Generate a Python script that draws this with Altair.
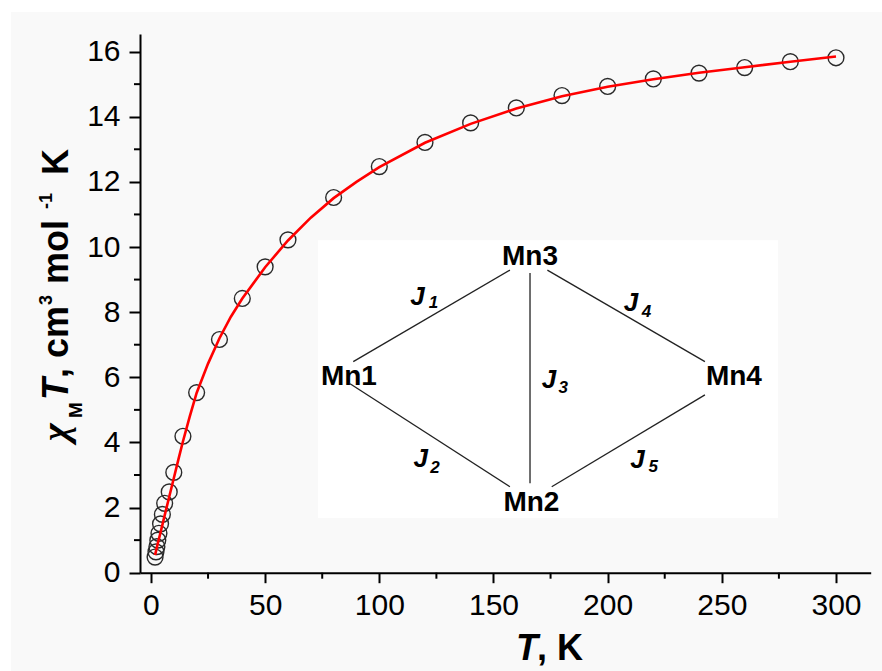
import altair as alt
import pandas as pd

T_exp = [1.8, 2.2, 2.6, 3.0, 3.5, 4.2, 5.0, 6.0, 8.0, 10, 14, 20, 30, 40, 50, 60, 80,
         100, 120, 140, 160, 180, 200, 220, 240, 260, 280, 300]
chiT_exp = [0.48, 0.64, 0.80, 1.00, 1.21, 1.50, 1.79, 2.13, 2.48, 3.08, 4.19, 5.53, 7.16, 8.42,
            9.39, 10.22, 11.52, 12.47, 13.21, 13.81, 14.27, 14.65, 14.93, 15.16, 15.34,
            15.51, 15.69, 15.81]

# ---- fit curve ----
T_fit = [1.8, 3, 4, 5, 6, 8, 10, 12, 14, 17, 20, 25, 30, 35, 40, 50, 60, 70, 80, 90,
         100, 120, 140, 160, 180, 200, 220, 240, 260, 280, 300]
chiT_fit = [0.54, 0.90, 1.18, 1.47, 1.76, 2.33, 2.90, 3.47, 4.03, 4.80, 5.52, 6.42, 7.20,
            7.86, 8.42, 9.38, 10.20, 10.90, 11.50, 12.00, 12.45, 13.20, 13.78, 14.25,
            14.63, 14.92, 15.15, 15.35, 15.52, 15.69, 15.85]

# ---- exchange-coupling scheme (inset) ----
node_names = ["Mn3", "Mn1", "Mn2", "Mn4"]
node_T = [166.0, 86.7, 166.6, 255.3]
node_chi = [9.70, 6.01, 2.14, 6.01]

edge_T1 = [88.6, 173.6, 166.0, 87.2, 175.5]
edge_c1 = [6.48, 9.29, 9.20, 5.80, 2.64]
edge_T2 = [157.2, 242.6, 166.0, 157.2, 242.6]
edge_c2 = [9.29, 6.48, 2.75, 2.64, 5.46]

J_subs = ["1", "2", "3", "4", "5"]
J_T = [113.6, 115.0, 171.1, 207.0, 209.9]
J_chi = [8.22, 3.26, 5.67, 8.02, 3.22]
sub_T = [121.6, 122.3, 178.5, 214.9, 217.9]
sub_chi = [8.13, 3.06, 5.52, 7.86, 3.10]

inset_box = {"T1": [73.1], "T2": [274.6], "c1": [1.68], "c2": [10.21]}

x_major = [0, 50, 100, 150, 200, 250, 300]
x_minor = [25, 75, 125, 175, 225, 275]
y_major = [0, 2, 4, 6, 8, 10, 12, 14, 16]
y_minor = [1, 3, 5, 7, 9, 11, 13, 15]

W, H = 730.7, 538.7
FONT = "Liberation Sans"

xs = alt.Scale(domain=[-4.8, 315.2], nice=False, zero=False)
ys = alt.Scale(domain=[0, 16.54], nice=False, zero=False)

exp_df = pd.DataFrame({"T": T_exp, "chi": chiT_exp})
fit_df = pd.DataFrame({"T": T_fit, "chi": chiT_fit})
nodes_df = pd.DataFrame({"name": node_names, "T": node_T, "chi": node_chi})
edges_df = pd.DataFrame({"T1": edge_T1, "c1": edge_c1, "T2": edge_T2, "c2": edge_c2})
J_df = pd.DataFrame({"lab": ["J"] * 5, "T": J_T, "chi": J_chi})
sub_df = pd.DataFrame({"lab": J_subs, "T": sub_T, "chi": sub_chi})
box_df = pd.DataFrame(inset_box)
one = pd.DataFrame({"a": [0]})

xaxis = alt.Axis(values=x_major, tickSize=10, labelPadding=8, title=None, labelFlush=False,
                 zindex=1, domainColor="black", domainWidth=2, tickColor="black",
                 tickWidth=2, labelFont=FONT, labelFontSize=30, labelColor="black",
                 grid=False)
yaxis = alt.Axis(values=y_major, tickSize=11, labelPadding=9, title=None, labelFlush=False,
                 zindex=1, domainColor="black", domainWidth=2, tickColor="black",
                 tickWidth=2, labelFont=FONT, labelFontSize=30, labelColor="black",
                 grid=False)

# gray page background (white rim at top/left)
bg = alt.Chart(one).mark_rect(color="#f9f9f9").encode(
    x=alt.value(-129), x2=alt.value(W + 12), y=alt.value(-22), y2=alt.value(H + 100))

inset = alt.Chart(box_df).mark_rect(color="white").encode(
    x=alt.X("T1:Q", scale=xs, axis=xaxis), x2="T2:Q",
    y=alt.Y("c1:Q", scale=ys, axis=yaxis), y2="c2:Q")

xminor = alt.Chart(pd.DataFrame({"T": x_minor})).mark_rule(color="black", strokeWidth=2).encode(
    x=alt.X("T:Q", scale=xs, axis=xaxis), y=alt.value(H), y2=alt.value(H + 6))
yminor = alt.Chart(pd.DataFrame({"c": y_minor})).mark_rule(color="black", strokeWidth=2).encode(
    y=alt.Y("c:Q", scale=ys, axis=yaxis), x=alt.value(-6), x2=alt.value(0))

edges = alt.Chart(edges_df).mark_rule(color="#222", strokeWidth=1.3).encode(
    x=alt.X("T1:Q", scale=xs, axis=xaxis), x2="T2:Q",
    y=alt.Y("c1:Q", scale=ys, axis=yaxis), y2="c2:Q")

nodes = alt.Chart(nodes_df).mark_text(font=FONT, fontSize=28, fontWeight="bold",
                                      color="black", baseline="middle", align="center").encode(
    x=alt.X("T:Q", scale=xs, axis=xaxis), y=alt.Y("chi:Q", scale=ys, axis=yaxis),
    text="name:N")

jlab = alt.Chart(J_df).mark_text(font=FONT, fontSize=26, fontWeight="bold", fontStyle="italic",
                                 color="black", baseline="alphabetic", align="left").encode(
    x=alt.X("T:Q", scale=xs, axis=xaxis), y=alt.Y("chi:Q", scale=ys, axis=yaxis),
    text="lab:N")
jsub = alt.Chart(sub_df).mark_text(font=FONT, fontSize=17, fontWeight="bold", fontStyle="italic",
                                   color="black", baseline="alphabetic", align="left").encode(
    x=alt.X("T:Q", scale=xs, axis=xaxis), y=alt.Y("chi:Q", scale=ys, axis=yaxis),
    text="lab:N")

points = alt.Chart(exp_df).mark_point(shape="circle", size=250, filled=False,
                                      stroke="#2a2a2a", strokeWidth=1.4, opacity=1).encode(
    x=alt.X("T:Q", scale=xs, axis=xaxis),
    y=alt.Y("chi:Q", scale=ys, axis=yaxis))

fit = alt.Chart(fit_df).mark_line(color="#ff0000", strokeWidth=2.6).encode(
    x=alt.X("T:Q", scale=xs, axis=xaxis), y=alt.Y("chi:Q", scale=ys, axis=yaxis))


def txt(s, x, y, size, weight="bold", style="normal", angle=0, font=FONT):
    return alt.Chart(one).mark_text(text=s, font=font, fontSize=size, fontWeight=weight,
                                    fontStyle=style, angle=angle, align="left",
                                    baseline="alphabetic", color="black").encode(
        x=alt.value(x), y=alt.value(y))


# y-axis title pieces (rotated): chi_M T, cm^3 mol^-1 K
ytitle = [
    txt("χ", -72, 407, 38, "bold", "italic", 270, "Liberation Serif"),
    txt("M", -58, 384, 19, "bold", "normal", 270),
    txt("T", -72, 366, 36, "bold", "italic", 270),
    txt(", cm", -72, 344, 36, "bold", "normal", 270),
    txt("3", -88, 271, 18, "bold", "normal", 270),
    txt("mol", -72, 250, 36, "bold", "normal", 270),
    txt("-1", -88, 175, 18, "bold", "normal", 270),
    txt("K", -72, 141, 36, "bold", "normal", 270),
]
xtitle = [
    txt("T", 376, 626, 36, "bold", "italic"),
    txt(", K", 397, 626, 36, "bold", "normal"),
]

chart = alt.layer(bg, inset, xminor, yminor, edges, nodes, jlab, jsub, points, fit,
                  *ytitle, *xtitle).properties(
    width=W, height=H, autosize="none", background="white",
    padding={"left": 140, "top": 34, "right": 882 - 140 - W, "bottom": 671 - 34 - H},
).configure_view(strokeWidth=0)

chart.save("out.html", embed_options={"renderer": "svg", "actions": False})
